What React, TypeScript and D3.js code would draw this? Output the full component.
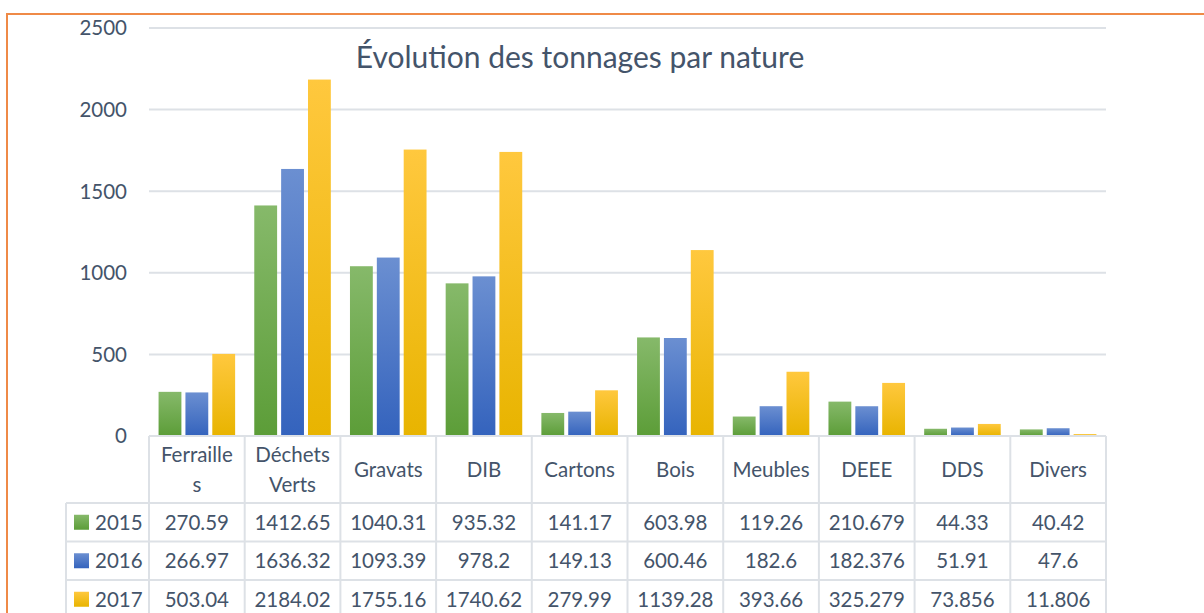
import React from "react";
import * as d3 from "d3";

// tonnages per waste type
const categories = ["Ferrailles", "Déchets Verts", "Gravats", "DIB", "Cartons", "Bois", "Meubles", "DEEE", "DDS", "Divers"];
const headerLines = [["Ferraille", "s"], ["Déchets", "Verts"], ["Gravats"], ["DIB"], ["Cartons"], ["Bois"], ["Meubles"], ["DEEE"], ["DDS"], ["Divers"]];
const years = ["2015", "2016", "2017"];
const values2015 = [270.59, 1412.65, 1040.31, 935.32, 141.17, 603.98, 119.26, 210.679, 44.33, 40.42];
const values2016 = [266.97, 1636.32, 1093.39, 978.2, 149.13, 600.46, 182.6, 182.376, 51.91, 47.6];
const values2017 = [503.04, 2184.02, 1755.16, 1740.62, 279.99, 1139.28, 393.66, 325.279, 73.856, 11.806];
const yTicks = [0, 500, 1000, 1500, 2000, 2500];

const series = [values2015, values2016, values2017];
const gradients = [
  { id: "g2015", top: "#86b96a", bottom: "#5c9d38" },
  { id: "g2016", top: "#6b8fd1", bottom: "#3463bd" },
  { id: "g2017", top: "#ffc83e", bottom: "#e8b400" },
];

const W = 1204;
const H = 613;
const plotLeft = 149;
const plotRight = 1106;
const plotTop = 28;
const plotBottom = 436;
const headerBottom = 503;
const rowH = 38.5;
const legendLeft = 66;
const textColor = "#44546a";
const gridColor = "#dde1e6";
const font = "Lato, 'Open Sans', sans-serif";

const App = () => {
  const x0 = d3.scaleBand().domain(categories).range([plotLeft, plotRight]).paddingInner(0.2).paddingOuter(0.1);
  const x1 = d3.scaleBand().domain(years).range([0, x0.bandwidth()]).paddingInner(0.15);
  const y = d3.scaleLinear().domain([0, 2500]).range([plotBottom, plotTop]);
  const step = x0.step();
  const colLeft = (i) => plotLeft + i * step;

  return (
    <svg width={W} height={H} style={{ position: "absolute", left: 0, top: 0, background: "#fff" }} fontFamily={font}>
      <defs>
        {gradients.map((g) => (
          <linearGradient key={g.id} id={g.id} x1="0" y1="0" x2="0" y2="1">
            <stop offset="0%" stopColor={g.top} />
            <stop offset="100%" stopColor={g.bottom} />
          </linearGradient>
        ))}
      </defs>

      {/* orange frame */}
      <path d={`M7,${H} V14 H${W}`} fill="none" stroke="#ef8a47" strokeWidth={2} />

      {/* gridlines + y labels */}
      {yTicks.map((t) => (
        <g key={t}>
          {t > 0 && <line x1={plotLeft} x2={plotRight} y1={y(t)} y2={y(t)} stroke={gridColor} strokeWidth={2} />}
          <text x={127} y={y(t)} dy="0.36em" textAnchor="end" fontSize={20.5} fill={textColor}>
            {t}
          </text>
        </g>
      ))}

      <text x={580} y={68} textAnchor="middle" fontSize={30} fill={textColor}>
        Évolution des tonnages par nature
      </text>

      {/* bars */}
      {categories.map((c, i) => (
        <g key={c} transform={`translate(${x0(c)},0)`}>
          {series.map((vals, s) => (
            <rect
              key={s}
              x={x1(years[s])}
              y={y(vals[i])}
              width={x1.bandwidth()}
              height={plotBottom - y(vals[i])}
              fill={`url(#${gradients[s].id})`}
            />
          ))}
        </g>
      ))}

      {/* data table */}
      <g stroke={gridColor} strokeWidth={2}>
        <line x1={plotLeft} x2={plotRight} y1={plotBottom} y2={plotBottom} />
        {years.map((yr, r) => (
          <line key={yr} x1={legendLeft} x2={plotRight} y1={headerBottom + r * rowH} y2={headerBottom + r * rowH} />
        ))}
        <line x1={legendLeft} x2={legendLeft} y1={headerBottom} y2={H} />
        {d3.range(categories.length + 1).map((i) => (
          <line key={i} x1={colLeft(i)} x2={colLeft(i)} y1={plotBottom} y2={H} />
        ))}
      </g>

      {headerLines.map((lines, i) => (
        <text key={i} x={colLeft(i) + step / 2} textAnchor="middle" fontSize={20.5} fill={textColor}>
          {lines.map((ln, k) => (
            <tspan key={k} x={colLeft(i) + step / 2} y={lines.length === 1 ? 477 : 462 + k * 30}>
              {ln}
            </tspan>
          ))}
        </text>
      ))}

      {years.map((yr, r) => {
        const cy = headerBottom + r * rowH + rowH / 2;
        return (
          <g key={yr}>
            <rect x={74} y={cy - 7.5} width={15} height={15} fill={`url(#${gradients[r].id})`} />
            <text x={95} y={cy} dy="0.36em" fontSize={20.5} fill={textColor}>
              {yr}
            </text>
            {series[r].map((v, i) => (
              <text key={i} x={colLeft(i) + step / 2} y={cy} dy="0.36em" textAnchor="middle" fontSize={20.5} fill={textColor}>
                {String(v)}
              </text>
            ))}
          </g>
        );
      })}
    </svg>
  );
};

export default App;
